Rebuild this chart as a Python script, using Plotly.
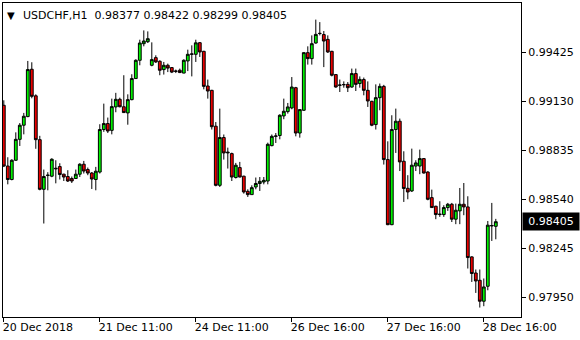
import plotly.graph_objects as go

symbol_title = "USDCHF,H1"
last_ohlc = ["0.98377", "0.98422", "0.98299", "0.98405"]
last_price = 0.98405

opens = [0.99106,0.98740,0.98659,0.98775,0.98901,0.98986,0.99038,0.99323,0.99163,0.98899,
         0.98600,0.98683,0.98679,0.98727,0.98737,0.98691,0.98677,0.98665,0.98665,0.98691,
         0.98751,0.98719,0.98698,0.98659,0.98704,0.98960,0.98996,0.98955,0.99096,0.99142,
         0.99097,0.99060,0.99140,0.99267,0.99377,0.99477,0.99489,0.99347,0.99393,0.99371,
         0.99321,0.99347,0.99333,0.99312,0.99317,0.99300,0.99373,0.99413,0.99413,0.99483,
         0.99431,0.99222,0.99196,0.98980,0.98624,0.98912,0.98819,0.98815,0.98671,0.98731,
         0.98679,0.98588,0.98568,0.98614,0.98635,0.98644,0.98650,0.98863,0.98919,0.98924,
         0.99042,0.99068,0.99090,0.99212,0.98939,0.99076,0.99423,0.99387,0.99481,0.99538,
         0.99532,0.99503,0.99431,0.99291,0.99226,0.99231,0.99232,0.99216,0.99297,0.99237,
         0.99261,0.99196,0.99130,0.98990,0.99152,0.99220,0.98779,0.98387,0.98960,0.99010,
         0.98769,0.98606,0.98590,0.98740,0.98740,0.98785,0.98704,0.98550,0.98498,0.98448,
         0.98448,0.98490,0.98510,0.98420,0.98470,0.98510,0.98494,0.98193,0.98096,0.98052,
         0.97926,0.98016,0.98379,0.98377]

highs = [0.99136,0.98793,0.98781,0.98943,0.98999,0.99060,0.99373,0.99365,0.99172,0.98922,
         0.98719,0.98703,0.98787,0.98775,0.98757,0.98694,0.98715,0.98677,0.98719,0.98757,
         0.98771,0.98731,0.98704,0.98735,0.98992,0.99116,0.99032,0.99146,0.99181,0.99152,
         0.99287,0.99172,0.99293,0.99383,0.99501,0.99557,0.99551,0.99485,0.99407,0.99377,
         0.99367,0.99357,0.99336,0.99321,0.99327,0.99383,0.99441,0.99467,0.99501,0.99487,
         0.99434,0.99261,0.99199,0.99005,0.99086,0.98930,0.98851,0.98821,0.98759,0.98765,
         0.98682,0.98600,0.98624,0.98671,0.98674,0.98674,0.98881,0.98930,0.98939,0.99052,
         0.99146,0.99120,0.99276,0.99217,0.99082,0.99425,0.99461,0.99527,0.99622,0.99607,
         0.99553,0.99527,0.99434,0.99293,0.99261,0.99250,0.99246,0.99327,0.99327,0.99280,
         0.99273,0.99250,0.99133,0.99232,0.99237,0.99229,0.98889,0.99046,0.99086,0.99026,
         0.98829,0.98685,0.98845,0.98775,0.98839,0.98787,0.98709,0.98598,0.98501,0.98528,
         0.98504,0.98518,0.98518,0.98514,0.98608,0.98638,0.98558,0.98197,0.98117,0.98117,
         0.98063,0.98409,0.98518,0.98422]

lows = [0.98734,0.98630,0.98654,0.98772,0.98861,0.98931,0.99034,0.99148,0.98844,0.98594,
        0.98394,0.98594,0.98673,0.98636,0.98659,0.98650,0.98644,0.98638,0.98663,0.98674,
        0.98695,0.98685,0.98602,0.98594,0.98695,0.98946,0.98939,0.98931,0.99064,0.99094,
        0.99061,0.98989,0.99136,0.99266,0.99347,0.99461,0.99481,0.99341,0.99361,0.99287,
        0.99291,0.99306,0.99300,0.99300,0.99300,0.99299,0.99312,0.99280,0.99367,0.99397,
        0.99202,0.99146,0.98960,0.98618,0.98614,0.98779,0.98725,0.98650,0.98665,0.98672,
        0.98574,0.98554,0.98567,0.98600,0.98590,0.98630,0.98630,0.98859,0.98879,0.98901,
        0.99022,0.99056,0.99082,0.98919,0.98911,0.99073,0.99351,0.99351,0.99477,0.99527,
        0.99336,0.99421,0.99280,0.99212,0.99186,0.99212,0.99186,0.99212,0.99192,0.99212,
        0.99166,0.99096,0.98980,0.98960,0.99076,0.98749,0.98384,0.98384,0.98819,0.98710,
        0.98524,0.98540,0.98584,0.98710,0.98691,0.98695,0.98534,0.98488,0.98420,0.98434,
        0.98434,0.98470,0.98403,0.98390,0.98390,0.98444,0.98123,0.98042,0.97976,0.97888,
        0.97896,0.97992,0.98289,0.98299]

closes = [0.98740,0.98659,0.98775,0.98901,0.98986,0.99040,0.99321,0.99160,0.98899,0.98600,
          0.98677,0.98685,0.98781,0.98724,0.98689,0.98674,0.98650,0.98650,0.98691,0.98751,
          0.98710,0.98698,0.98662,0.98709,0.98960,0.98996,0.98951,0.99098,0.99142,0.99097,
          0.99062,0.99140,0.99267,0.99377,0.99481,0.99493,0.99507,0.99381,0.99367,0.99317,
          0.99347,0.99330,0.99306,0.99311,0.99303,0.99377,0.99413,0.99415,0.99482,0.99427,
          0.99220,0.99192,0.98977,0.98624,0.98912,0.98819,0.98823,0.98674,0.98745,0.98674,
          0.98584,0.98568,0.98610,0.98635,0.98648,0.98654,0.98871,0.98919,0.98921,0.99046,
          0.99070,0.99096,0.99216,0.98939,0.99080,0.99423,0.99387,0.99477,0.99533,0.99539,
          0.99493,0.99427,0.99287,0.99216,0.99228,0.99230,0.99212,0.99297,0.99232,0.99262,
          0.99196,0.99132,0.98986,0.99152,0.99220,0.98779,0.98387,0.98960,0.99010,0.98765,
          0.98605,0.98584,0.98745,0.98759,0.98785,0.98698,0.98540,0.98490,0.98448,0.98450,
          0.98490,0.98510,0.98420,0.98474,0.98510,0.98494,0.98189,0.98093,0.98048,0.97926,
          0.98012,0.98384,0.98382,0.98405]

bar_index = list(range(len(opens)))

x_tick_bars = [0, 24, 48, 72, 96, 120]
x_tick_labels = ["20 Dec 2018", "21 Dec 11:00", "24 Dec 11:00",
                 "26 Dec 16:00", "27 Dec 16:00", "28 Dec 16:00"]
y_tick_vals = [0.99425, 0.99130, 0.98835, 0.98540, 0.98245, 0.97950]
y_tick_labels = ["0.99425", "0.99130", "0.98835", "0.98540", "0.98245", "0.97950"]

FONT = "DejaVu Sans"

fig = go.Figure()
fig.add_trace(go.Candlestick(
    x=bar_index, open=opens, high=highs, low=lows, close=closes,
    increasing=dict(line=dict(color="#000000", width=1), fillcolor="#00f000"),
    decreasing=dict(line=dict(color="#000000", width=1), fillcolor="#e80000"),
    whiskerwidth=0,
    hoverinfo="skip",
    showlegend=False,
))

fig.update_layout(
    width=580, height=340,
    margin=dict(l=3, r=59, t=3, b=23),
    paper_bgcolor="white", plot_bgcolor="white",
    boxgap=0.3, boxgroupgap=0,
    font=dict(family=FONT, size=11, color="#000000"),
    showlegend=False,
    xaxis=dict(
        range=[-0.2, 129.3],
        rangeslider=dict(visible=False),
        showgrid=False, zeroline=False,
        showline=True, mirror=True, linecolor="#000000", linewidth=1,
        ticks="outside", ticklen=4, tickcolor="#000000",
        tickvals=x_tick_bars, ticktext=x_tick_labels,
        ticklabelposition="outside right",
        ticklabelshift=-2,
        tickfont=dict(family=FONT, size=11, color="#000000"),
    ),
    yaxis=dict(
        range=[0.97831, 0.99722],
        side="right",
        showgrid=False, zeroline=False,
        showline=True, mirror=True, linecolor="#000000", linewidth=1,
        ticks="outside", ticklen=4, tickcolor="#000000",
        tickvals=y_tick_vals, ticktext=y_tick_labels,
        tickfont=dict(family=FONT, size=11, color="#000000"),
    ),
)

header = symbol_title + "\u00a0\u00a0" + " ".join(last_ohlc)
fig.add_annotation(
    xref="paper", yref="paper", x=0, y=1, xanchor="left", yanchor="top",
    xshift=18, yshift=-4, text=header, showarrow=False,
    font=dict(family=FONT, size=11, color="#000000"),
)
fig.add_annotation(
    xref="paper", yref="paper", x=0, y=1, xanchor="left", yanchor="top",
    xshift=2, yshift=-5, text="\u25bc", showarrow=False,
    font=dict(family=FONT, size=10, color="#000000"),
)
fig.add_annotation(
    xref="paper", yref="y", x=1, y=last_price, xanchor="left", yanchor="middle",
    xshift=1, text=str(f"{last_price:.5f}"), showarrow=False,
    bgcolor="#000000", borderpad=2, width=52,
    font=dict(family=FONT, size=11, color="#ffffff"),
)

fig.write_html("out.html")
